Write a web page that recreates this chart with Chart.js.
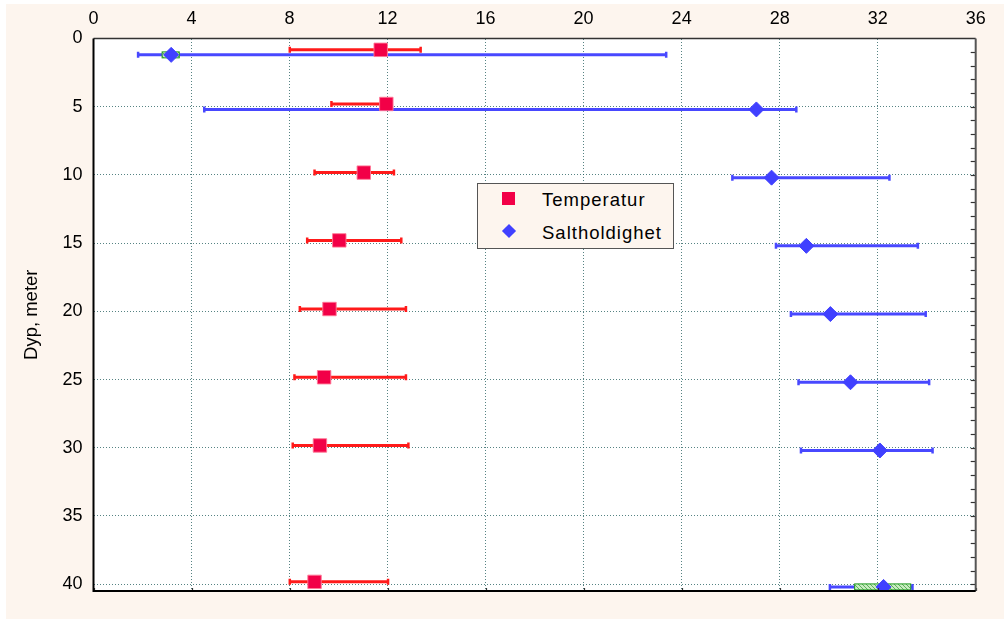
<!DOCTYPE html>
<html>
<head>
<meta charset="utf-8">
<script src="https://cdn.jsdelivr.net/npm/chart.js@4.4.0/dist/chart.umd.min.js"></script>
<style>
  body { margin: 0; background: #fff; }
  #wrap { position: absolute; left: 6px; top: 4px; width: 998px; height: 615px; background: #fdf5ee; }
  #legend {
    position: absolute; left: 471px; top: 179px; width: 195px; height: 64px;
    border: 1.5px solid #555; background: #fdf5ee;
    font-family: "Liberation Sans", Arial, sans-serif; font-size: 18.5px; letter-spacing: 1px; color: #000;
  }
  #legend .txt { position: absolute; left: 64px; line-height: 20px; white-space: nowrap; }
  #legend .sq { position: absolute; left: 24px; top: 8px; width: 13px; height: 13px; background: #f20047; }
  #legend .dm { position: absolute; left: 26px; top: 42px; width: 10px; height: 10px; background: #4040ff; transform: rotate(45deg); }
</style>
</head>
<body>
<div id="wrap">
  <canvas id="chart" width="998" height="615"></canvas>
  <div id="legend">
    <div class="sq"></div><div class="txt" style="top:6px">Temperatur</div>
    <div class="dm"></div><div class="txt" style="top:39px">Saltholdighet</div>
  </div>
</div>
<script>
// Temperatur: depth, mean and range
const depthT = [0.83, 4.8, 9.83, 14.8, 19.83, 24.83, 29.83, 39.83];
const tempMean = [11.72, 11.95, 11.03, 10.03, 9.63, 9.41, 9.24, 9.02];
const tempLow = [8.01, 9.71, 9.02, 8.72, 8.42, 8.2, 8.13, 8.01];
const tempHigh = [13.35, 12.1, 12.26, 12.56, 12.75, 12.75, 12.85, 12.02];

// Saltholdighet: depth, mean and range
const depthS = [1.2, 5.2, 10.2, 15.2, 20.2, 25.2, 30.2, 40.2];
const saltMean = [3.17, 27.05, 27.67, 29.09, 30.07, 30.89, 32.09, 32.24];
const saltLow = [1.82, 4.52, 26.07, 27.85, 28.46, 28.77, 28.87, 30.05];
const saltHigh = [23.37, 28.68, 32.48, 33.64, 33.96, 34.1, 34.24, 33.42];

// green boxes visible around some salt means
const boxDepth = [1.2, 40.2];
const boxLow = [2.8, 31.06];
const boxHigh = [3.5, 33.35];

const xTicks = [0, 4, 8, 12, 16, 20, 24, 28, 32, 36];
const yTicks = [0, 5, 10, 15, 20, 25, 30, 35, 40];

const FONT = '"Liberation Sans", Arial, sans-serif';
const gridColor = 'rgba(30, 90, 90, 0.75)';

// hatched fill for the green boxes
const pat = document.createElement('canvas');
pat.width = 4; pat.height = 4;
const pctx = pat.getContext('2d');
pctx.fillStyle = '#c8ecc0';
pctx.fillRect(0, 0, 4, 4);
pctx.fillStyle = '#5cae5c';
pctx.fillRect(0, 0, 1, 1); pctx.fillRect(1, 1, 1, 1); pctx.fillRect(2, 2, 1, 1); pctx.fillRect(3, 3, 1, 1);
const hatch = pctx.createPattern(pat, 'repeat');

function errorBars(depth, lo, hi, color) {
  return depth.map((d, i) => ({
    data: [{ x: lo[i], y: d }, { x: hi[i], y: d }],
    showLine: true,
    borderColor: color,
    backgroundColor: color,
    borderWidth: 3,
    pointStyle: 'line',
    pointRotation: 90,
    pointRadius: 3,
    pointBorderWidth: 2.5,
    pointBorderColor: color
  }));
}

const framePlugin = {
  id: 'frame',
  beforeDraw(chart) {
    const { ctx, chartArea: a } = chart;
    ctx.save();
    ctx.fillStyle = '#fff';
    ctx.fillRect(a.left, a.top, a.right - a.left, a.bottom - a.top);
    ctx.restore();
  },
  beforeDatasetDraw(chart, args) {
    if (args.index !== 1) return;
    const { ctx, scales: { x, y } } = chart;
    ctx.save();
    boxDepth.forEach((d, i) => {
      const x0 = x.getPixelForValue(boxLow[i]);
      const x1 = x.getPixelForValue(boxHigh[i]);
      const yc = y.getPixelForValue(d);
      ctx.fillStyle = hatch;
      ctx.fillRect(x0, yc - 3, x1 - x0, 6);
      ctx.strokeStyle = '#1f9a1f';
      ctx.lineWidth = 1;
      ctx.strokeRect(x0, yc - 3, x1 - x0, 6);
    });
    ctx.restore();
  },
  afterDraw(chart) {
    const { ctx, chartArea: a, scales: { x, y } } = chart;
    ctx.save();
    // right side minor ticks
    ctx.strokeStyle = '#333';
    ctx.lineWidth = 1.2;
    for (let v = 1; v <= 40; v++) {
      const py = Math.round(y.getPixelForValue(v)) + 0.5;
      ctx.beginPath(); ctx.moveTo(a.right - 5, py); ctx.lineTo(a.right, py); ctx.stroke();
    }
    // bottom small ticks
    xTicks.forEach(v => {
      const px = Math.round(x.getPixelForValue(v)) + 0.5;
      ctx.beginPath(); ctx.moveTo(px, a.bottom - 3); ctx.lineTo(px, a.bottom); ctx.stroke();
    });
    // frame
    ctx.lineWidth = 1.5;
    ctx.strokeStyle = '#333';
    ctx.beginPath(); ctx.moveTo(a.left, a.top); ctx.lineTo(a.right, a.top); ctx.stroke();
    ctx.strokeStyle = '#555';
    ctx.lineWidth = 2;
    ctx.beginPath(); ctx.moveTo(a.right, a.top); ctx.lineTo(a.right, a.bottom); ctx.stroke();
    ctx.strokeStyle = '#000';
    ctx.beginPath(); ctx.moveTo(a.left, a.top); ctx.lineTo(a.left, a.bottom); ctx.lineTo(a.right, a.bottom); ctx.stroke();
    ctx.restore();
  }
};

new Chart(document.getElementById('chart').getContext('2d'), {
  type: 'scatter',
  data: {
    datasets: [
      {
        label: 'Temperatur',
        data: depthT.map((d, i) => ({ x: tempMean[i], y: d })),
        pointStyle: 'rect',
        pointRadius: 9.5,
        backgroundColor: '#f20047',
        borderColor: 'rgba(255, 120, 150, 0.9)',
        borderWidth: 1
      },
      {
        label: 'Saltholdighet',
        data: depthS.map((d, i) => ({ x: saltMean[i], y: d })),
        pointStyle: 'rectRot',
        pointRadius: 7.5,
        backgroundColor: '#4040ff',
        borderColor: '#4040ff',
        borderWidth: 1
      },
      ...errorBars(depthT, tempLow, tempHigh, '#ff1a1a'),
      ...errorBars(depthS, saltLow, saltHigh, '#4848ff')
    ]
  },
  options: {
    responsive: false,
    animation: false,
    layout: { padding: { left: 0, top: 0, right: 28.3, bottom: 28 } },
    plugins: {
      legend: { display: false },
      tooltip: { enabled: false }
    },
    scales: {
      x: {
        type: 'linear',
        position: 'top',
        min: 0,
        max: 36,
        afterBuildTicks: s => { s.ticks = xTicks.map(v => ({ value: v })); },
        afterFit: s => { s.height = 34.5; },
        ticks: { color: '#000', font: { family: FONT, size: 18 }, padding: 9 },
        grid: { color: gridColor, lineWidth: 1, drawTicks: false },
        border: { display: false, dash: [1, 2] }
      },
      y: {
        type: 'linear',
        reverse: true,
        min: 0,
        max: 40.5,
        afterBuildTicks: s => { s.ticks = yTicks.map(v => ({ value: v })); },
        afterFit: s => { s.width = 87.5; },
        ticks: { color: '#000', font: { family: FONT, size: 18 }, padding: 11 },
        grid: { color: gridColor, lineWidth: 1, drawTicks: false },
        border: { display: false, dash: [1, 2] },
        title: {
          display: true,
          text: 'Dyp, meter',
          color: '#000',
          font: { family: FONT, size: 18.5 },
          padding: { top: 15, bottom: 0 }
        }
      }
    }
  },
  plugins: [framePlugin]
});
</script>
</body>
</html>
